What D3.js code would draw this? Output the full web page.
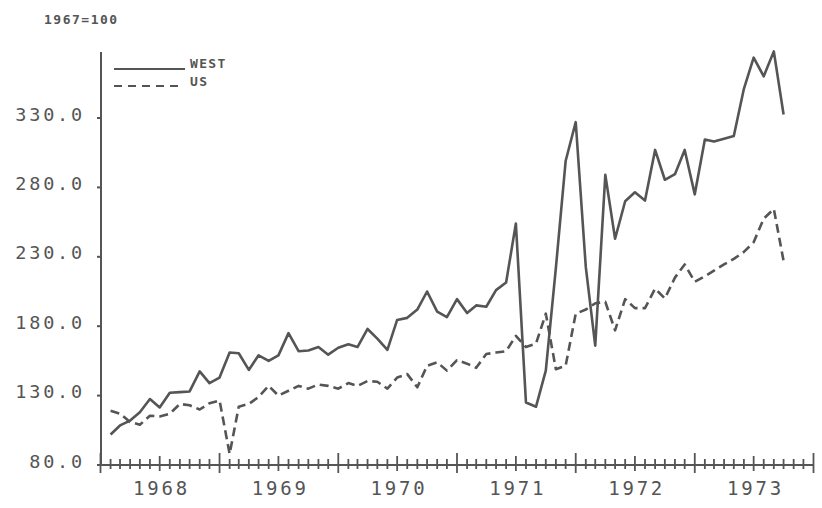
<!DOCTYPE html>
<html><head><meta charset="utf-8">
<script src="https://cdn.jsdelivr.net/npm/d3@7"></script>
<style>
body{margin:0;background:#fff;}
svg{display:block;}
text{fill:#555;}
</style></head>
<body>
<svg id="c" width="822" height="508"></svg>
<script>
const firstMonth = "1968-02";
const westValues = [102,108.5,112,118,127.5,121.5,132,132.5,133,147.5,139,143,
  161,160.5,148.5,159,155,159,175,162,162.5,165,159.5,164.5,
  167,165,178,171,163,184.5,186,192,205,190.5,186.5,199.5,
  189.5,195,194,206,211.5,254,125,122,148,222,299,327,
  222.5,166,289,243,270,276.5,270.5,307,285.5,289.5,307,275,
  314.5,313,315,317,351,373.5,360,378,332.5];
const usValues = [119,117,111,109,115.5,115,117,124,123,120,124.5,126.5,
  88,122,124,129,137,130,133.5,137,135,138,137,135,
  139,137,140.5,140,135,143,145.5,136,151.5,154,148,155.5,
  153,150,160,161,162,173,165,167.5,189,149,151.5,189,
  192,196.5,197.5,177,199.5,193,193,207,200,215,224.5,212,
  216,220,224.5,228.5,233.5,240.5,257.5,264.5,227];
const yTicks = [80,130,180,230,280,330];
const yearLabels = ["1968","1969","1970","1971","1972","1973"];
const titleText = "1967=100";
const seriesNames = ["WEST","US"];

const svg = d3.select("#c");
const col = "#555";
const parse = d3.timeParse("%Y-%m");
const t0 = parse(firstMonth);
const dates = westValues.map((_, i) => d3.timeMonth.offset(t0, i));

const x = d3.scaleTime().domain([new Date(1968,0,1), new Date(1974,0,1)]).range([100.5, 813.5]);
const y = d3.scaleLinear().domain([80, 380]).range([465, 48.6]);

// axes lines
svg.append("line").attr("x1",101).attr("x2",101).attr("y1",52).attr("y2",466)
  .attr("stroke",col).attr("stroke-width",2);
svg.append("line").attr("x1",100).attr("x2",x(new Date(1974,0,1))).attr("y1",465).attr("y2",465)
  .attr("stroke",col).attr("stroke-width",2);

// y ticks & labels
const yg = svg.append("g");
yTicks.forEach(v => {
  yg.append("line").attr("x1",97).attr("x2",101).attr("y1",y(v)).attr("y2",y(v))
    .attr("stroke",col).attr("stroke-width",2);
  yg.append("text").attr("x",85).attr("y",y(v)+2.5).attr("text-anchor","end")
    .attr("font-family","DejaVu Sans Mono").attr("font-size",18.5).attr("letter-spacing",2.8)
    .text(d3.format(".1f")(v));
});

// x ticks
const months = d3.timeMonth.range(new Date(1968,0,1), new Date(1974,0,2));
months.forEach(m => {
  const mo = m.getMonth();
  let up = 6, dn = 4;
  if (mo === 0) { up = 12; dn = 8; }
  else if (mo === 6) { up = 9; dn = 6; }
  svg.append("line").attr("x1",x(m)).attr("x2",x(m)).attr("y1",465-up).attr("y2",465+dn)
    .attr("stroke",col).attr("stroke-width",1.8);
});
yearLabels.forEach(lbl => {
  const yr = +lbl;
  const cx = (x(new Date(yr,0,1)) + x(new Date(yr+1,0,1))) / 2;
  svg.append("text").attr("x",cx+1.4).attr("y",495).attr("text-anchor","middle")
    .attr("font-family","DejaVu Sans Mono").attr("font-size",19).attr("letter-spacing",2.8)
    .text(lbl);
});

// lines
const line = d3.line().x((d,i) => x(dates[i])).y(d => y(d));
svg.append("path").datum(westValues).attr("d",line).attr("fill","none")
  .attr("stroke",col).attr("stroke-width",2.6).attr("stroke-linejoin","round");
svg.append("path").datum(usValues).attr("d",line).attr("fill","none")
  .attr("stroke",col).attr("stroke-width",2.6).attr("stroke-linejoin","round")
  .attr("stroke-dasharray","9,5");

// title
svg.append("text").attr("x",44).attr("y",24).attr("font-family","DejaVu Sans Mono")
  .attr("font-weight","bold").attr("font-size",13).attr("letter-spacing",1.5).text(titleText);

// legend
svg.append("line").attr("x1",114).attr("x2",185).attr("y1",69).attr("y2",69)
  .attr("stroke",col).attr("stroke-width",2);
svg.append("line").attr("x1",114).attr("x2",178).attr("y1",86).attr("y2",86)
  .attr("stroke",col).attr("stroke-width",2).attr("stroke-dasharray","8,6");
svg.append("text").attr("x",190).attr("y",68).attr("font-family","DejaVu Sans Mono")
  .attr("font-weight","bold").attr("font-size",13).attr("letter-spacing",1.3).text(seriesNames[0]);
svg.append("text").attr("x",190).attr("y",86).attr("font-family","DejaVu Sans Mono")
  .attr("font-weight","bold").attr("font-size",13).attr("letter-spacing",1.3).text(seriesNames[1]);
</script>
</body></html>
